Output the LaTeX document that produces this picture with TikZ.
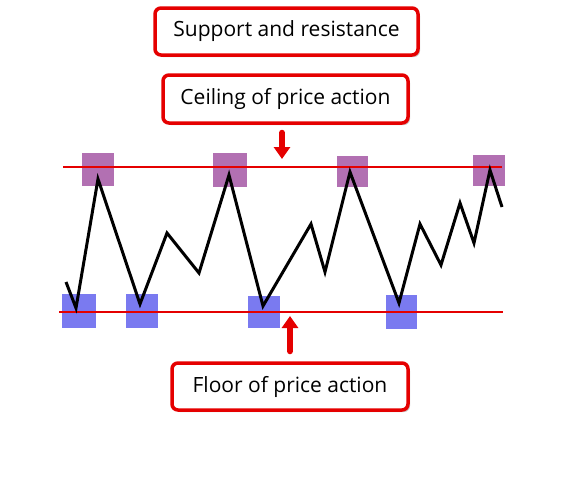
\documentclass[tikz,border=0pt]{standalone}
\usepackage{fontspec}
\setmainfont{Open Sans}
\usetikzlibrary{arrows.meta,shadows}
\begin{document}
\begin{tikzpicture}[x=1pt,y=-1pt,
  labelbox/.style={draw=red!90!black, line width=3.5pt, rounded corners=6pt, fill=white,
    drop shadow={shadow xshift=2pt, shadow yshift=-2pt, fill=black!35, opacity=0.6},
    inner sep=0pt, font=\fontsize{21}{24}\selectfont},
  level/.style={red!90!black, line width=2.4pt},
  price/.style={black, line width=3pt, line join=miter},
  topmark/.style={fill={rgb,255:red,178;green,112;blue,178}},
  botmark/.style={fill={rgb,255:red,122;green,122;blue,240}},
  bigarrow/.style={red!90!black, line width=6pt, line cap=round, -{Triangle[width=16pt,length=12pt]}}]
\useasboundingbox (0,0) rectangle (566,477);
% boxes
\node[labelbox, minimum width=263pt, minimum height=47pt] (title) at (286.5,31.5) {Support and resistance};
\node[labelbox, minimum width=245pt, minimum height=48pt] (ceil) at (285.5,99) {Ceiling of price action};
\node[labelbox, minimum width=236pt, minimum height=47pt] (floor) at (290,386.5) {Floor of price action};
% marks
\fill[topmark] (82,153) rectangle (114,186);
\fill[topmark] (213,153) rectangle (247,187);
\fill[topmark] (337,156) rectangle (368,187);
\fill[topmark] (473,155) rectangle (505,186);
\fill[botmark] (62,294) rectangle (96,328);
\fill[botmark] (126,294) rectangle (158,328);
\fill[botmark] (248,296) rectangle (280,328);
\fill[botmark] (386,295) rectangle (417,329);
% levels
\coordinate (r1) at (63,167); \coordinate (r2) at (502,167);
\coordinate (s1) at (59,312); \coordinate (s2) at (503,312);
\draw[level] (r1) -- (r2);
\draw[level] (s1) -- (s2);
% price
\draw[price] (66,282) -- (76,308) -- (98,179) -- (140,304) -- (167,233) -- (199,273)
  -- (229,175) -- (263,306) -- (311,224) -- (325,272) -- (350,172) -- (399,303)
  -- (420,224) -- (441,265) -- (460,203) -- (474,243) -- (490,170) -- (502,207);
% arrows
\coordinate (ctip) at (282,159);
\coordinate (ftip) at (290,316);
\draw[bigarrow] (ceil.south -| ctip) ++(0,8) -- (ctip);
\draw[bigarrow] (floor.north -| ftip) ++(0,-10) -- (ftip);
\end{tikzpicture}
\end{document}
